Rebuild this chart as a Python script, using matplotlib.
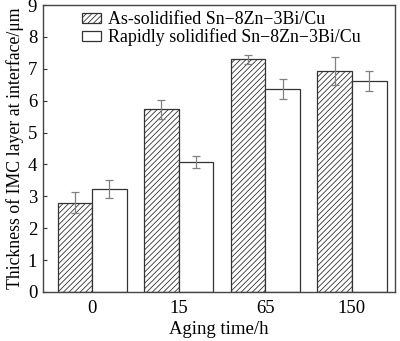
import numpy as np
import matplotlib
matplotlib.use('Agg')
import matplotlib.pyplot as plt

plt.rcParams['font.family'] = ['Liberation Serif', 'DejaVu Serif']
plt.rcParams['hatch.color'] = '#666666'
plt.rcParams['hatch.linewidth'] = 0.6

# data
aging_time = ['0', '15', '65', '150']
as_solid = [2.80, 5.73, 7.30, 6.92]
as_solid_err = [0.32, 0.29, 0.15, 0.44]
rapid = [3.24, 4.09, 6.37, 6.62]
rapid_err = [0.28, 0.19, 0.32, 0.32]

x = np.arange(len(aging_time))
w = 0.4
fs = 13.5

fig = plt.figure(figsize=(4.0, 3.41), dpi=100)
ax = fig.add_axes([0.107, 0.144, 0.881, 0.841])

ax.bar(x - w / 2, as_solid, w, yerr=as_solid_err, color='white', edgecolor='#333333',
       hatch='//////', linewidth=0.9, label='As-solidified Sn\u22128Zn\u22123Bi/Cu',
       error_kw=dict(ecolor='#808080', elinewidth=0.9, capsize=3, capthick=0.9))
ax.bar(x + w / 2, rapid, w, yerr=rapid_err, color='white', edgecolor='#333333',
       linewidth=0.9, label='Rapidly solidified Sn\u22128Zn\u22123Bi/Cu',
       error_kw=dict(ecolor='#808080', elinewidth=0.9, capsize=3, capthick=0.9))

ax.set_xlim(-0.57, 3.5)
ax.set_ylim(0, 9)
ax.set_yticks(range(0, 10))
ax.set_xticks(x)
ax.set_xticklabels(aging_time)
ax.tick_params(axis='y', direction='in', length=3, width=0.8, color='#333333', labelsize=fs, pad=4)
ax.tick_params(axis='x', length=0, labelsize=fs, pad=6)
for s in ax.spines.values():
    s.set_color('#444444')
    s.set_linewidth(1.0)

ax.set_xlabel('Aging time/h', fontsize=fs, labelpad=3)
ax.set_ylabel('Thickness of IMC layer at interface/\u03bcm', fontsize=12.8, labelpad=3)

ax.legend(loc='upper left', bbox_to_anchor=(0.072, 1.025), frameon=False, fontsize=12.9,
          handlelength=1.1, handleheight=0.45, handletextpad=0.35, labelspacing=0.0,
          borderaxespad=0.35)

fig.savefig('out.png', dpi=100)
